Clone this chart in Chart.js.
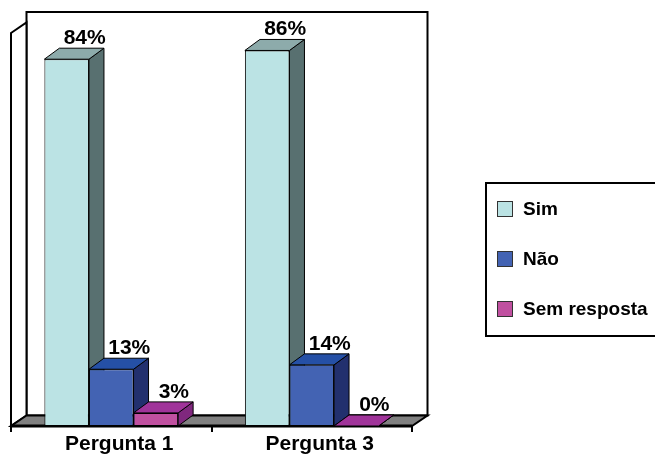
<!DOCTYPE html>
<html>
<head>
<meta charset="utf-8">
<script src="https://cdn.jsdelivr.net/npm/chart.js@4.4.1/dist/chart.umd.min.js"></script>
<style>
  html, body { margin: 0; padding: 0; background: #fff; overflow: hidden; }
  #grafico_wrap { width: 655px; height: 458px; }
</style>
</head>
<body>
<div id="grafico_wrap"><canvas id="cvs_grafico"></canvas></div>
<script>
// dados
const categorias = ["Pergunta 1", "Pergunta 3"];
const nomesSeries = ["Sim", "Não", "Sem resposta"];
const valoresSim = [84, 86];
const valoresNao = [13, 14];
const valoresSemResposta = [3, 0];
const eixoMax = 90;

// cores: frente, lado, topo
const coresFrente = ["#BBE3E4", "#4363B3", "#C050A0"];
const coresLado = ["#587070", "#22306E", "#80287E"];
const coresTopo = ["#8DABAB", "#2550A6", "#A0349A"];

const PROF_DX = 15; // profundidade das barras
const PROF_DY = -11;
const PAREDE_DX = 15.5; // profundidade das paredes / chao
const PAREDE_DY = -10.5;

const fonte = "'Liberation Sans', Arial, sans-serif";

function poligono(ctx, pontos, cor) {
  ctx.beginPath();
  ctx.moveTo(pontos[0][0], pontos[0][1]);
  for (let i = 1; i < pontos.length; i++) ctx.lineTo(pontos[i][0], pontos[i][1]);
  ctx.closePath();
  if (cor) {
    ctx.fillStyle = cor;
    ctx.fill();
  }
  ctx.stroke();
}

const efeito3d = {
  id: "efeito3d",
  beforeDatasetsDraw(chart) {
    const ctx = chart.ctx;
    const a = chart.chartArea;
    ctx.save();
    ctx.strokeStyle = "#000";
    ctx.lineJoin = "miter";
    ctx.lineWidth = 2;

    // parede do fundo
    poligono(ctx, [
      [a.left + PAREDE_DX, a.top + 2 * PAREDE_DY],
      [a.right + PAREDE_DX, a.top + 2 * PAREDE_DY],
      [a.right + PAREDE_DX, a.bottom + PAREDE_DY],
      [a.left + PAREDE_DX, a.bottom + PAREDE_DY],
    ], "#fff");
    // parede lateral
    poligono(ctx, [
      [a.left, a.top],
      [a.left + PAREDE_DX, a.top + PAREDE_DY],
      [a.left + PAREDE_DX, a.bottom + PAREDE_DY],
      [a.left, a.bottom],
    ], "#fff");
    // chao
    poligono(ctx, [
      [a.left, a.bottom],
      [a.right, a.bottom],
      [a.right + PAREDE_DX, a.bottom + PAREDE_DY],
      [a.left + PAREDE_DX, a.bottom + PAREDE_DY],
    ], "#808080");
    // borda da frente do chao, mais grossa
    ctx.lineWidth = 3;
    ctx.beginPath();
    ctx.moveTo(a.left, a.bottom);
    ctx.lineTo(a.right, a.bottom);
    ctx.stroke();

    // lados e topos das barras (as frentes sao desenhadas pelo Chart.js)
    ctx.lineWidth = 1;
    chart.data.datasets.forEach((ds, i) => {
      const meta = chart.getDatasetMeta(i);
      meta.data.forEach((barra) => {
        const p = barra.getProps(["x", "y", "base", "width"], true);
        const esq = p.x - p.width / 2;
        const dir = p.x + p.width / 2;
        poligono(ctx, [
          [dir, p.y],
          [dir + PROF_DX, p.y + PROF_DY],
          [dir + PROF_DX, p.base + PROF_DY],
          [dir, p.base],
        ], coresLado[i]);
        poligono(ctx, [
          [esq, p.y],
          [dir, p.y],
          [dir + PROF_DX, p.y + PROF_DY],
          [esq + PROF_DX, p.y + PROF_DY],
        ], coresTopo[i]);
      });
    });
    ctx.restore();
  },
  afterDatasetsDraw(chart) {
    const ctx = chart.ctx;
    ctx.save();
    ctx.fillStyle = "#000";
    ctx.font = "bold 21px " + fonte;
    ctx.textAlign = "center";
    ctx.textBaseline = "alphabetic";
    chart.data.datasets.forEach((ds, i) => {
      const meta = chart.getDatasetMeta(i);
      meta.data.forEach((barra, j) => {
        const p = barra.getProps(["x", "y"], true);
        ctx.fillText(ds.data[j] + "%", p.x + PROF_DX + 3, p.y + PROF_DY - 4);
      });
    });
    ctx.restore();
  },
  afterDraw(chart) {
    // legenda com moldura
    const ctx = chart.ctx;
    ctx.save();
    ctx.strokeStyle = "#000";
    ctx.lineWidth = 2;
    ctx.strokeRect(486, 183, 190, 153);
    ctx.font = "bold 19px " + fonte;
    ctx.textBaseline = "middle";
    ctx.textAlign = "left";
    const linhas = [209, 259, 309];
    chart.data.datasets.forEach((ds, i) => {
      ctx.fillStyle = coresFrente[i];
      ctx.fillRect(497.5, linhas[i] - 7.5, 15, 15);
      ctx.lineWidth = 1;
      ctx.strokeStyle = "#333";
      ctx.strokeRect(497.5, linhas[i] - 7.5, 15, 15);
      ctx.fillStyle = "#000";
      ctx.fillText(ds.label, 523, linhas[i] + 1);
    });
    ctx.restore();
  },
};

function criarGrafico() {
  const valores = [valoresSim, valoresNao, valoresSemResposta];
  new Chart(document.getElementById("cvs_grafico"), {
    type: "bar",
    data: {
      labels: categorias,
      datasets: nomesSeries.map((nome, i) => ({
        label: nome,
        data: valores[i],
        backgroundColor: coresFrente[i],
        borderColor: "#000",
        borderWidth: 1,
        borderSkipped: false,
        categoryPercentage: 0.667,
        barPercentage: 1,
      })),
    },
    plugins: [efeito3d],
    options: {
      responsive: true,
      maintainAspectRatio: false,
      animation: false,
      layout: { padding: { left: 11, top: 33, right: 243, bottom: 1 } },
      plugins: {
        legend: { display: false },
        tooltip: { enabled: false },
      },
      scales: {
        x: {
          grid: {
            display: true,
            offset: true,
            drawOnChartArea: false,
            drawTicks: true,
            tickLength: 6,
            color: "#000",
            lineWidth: 2,
          },
          border: { display: false },
          ticks: {
            color: "#000",
            padding: 2,
            labelOffset: 8,
            font: { family: fonte, size: 21, weight: "bold", lineHeight: 1 },
          },
        },
        y: {
          display: false,
          min: 0,
          max: eixoMax,
        },
      },
    },
  });
}

criarGrafico();
</script>
</body>
</html>
